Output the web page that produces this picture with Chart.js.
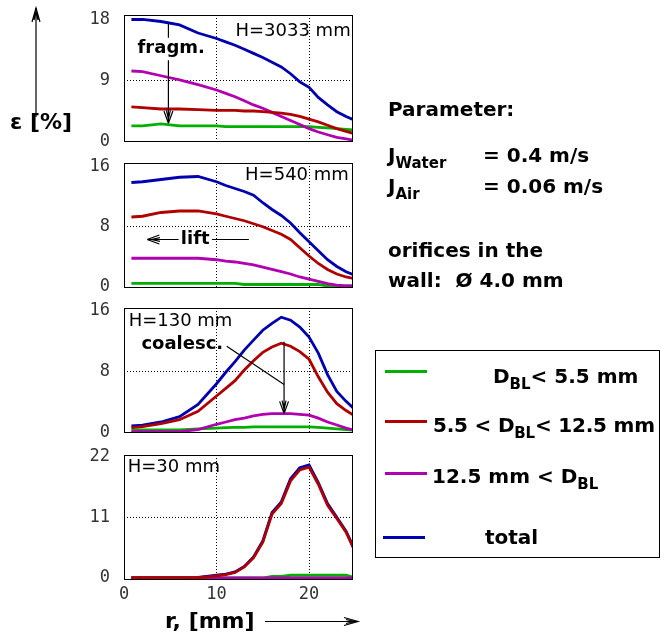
<!DOCTYPE html>
<html>
<head>
<meta charset="utf-8">
<script src="https://cdn.jsdelivr.net/npm/chart.js@4"></script>
<style>
  body { margin: 0; background: #fff; }
  #page { position: relative; width: 661px; height: 641px; overflow: hidden; font-family: "DejaVu Sans", sans-serif; }
  canvas { position: absolute; left: 0; }
  .t { position: absolute; font-weight: bold; font-size: 20px; line-height: 20px; color: #000; white-space: nowrap; }
  .t sub { font-size: 15px; line-height: 0; vertical-align: -6px; }
  #legend { position: absolute; left: 375px; top: 350px; width: 285px; height: 208px; border: 1px solid #000; box-sizing: border-box; }
  .ln { position: absolute; height: 3px; width: 42px; }
  svg { position: absolute; left: 0; top: 0; }
</style>
</head>
<body>
<div id="page">
  <canvas id="p1" width="360" height="143"></canvas>
  <canvas id="p2" width="360" height="141"></canvas>
  <canvas id="p3" width="360" height="141"></canvas>
  <canvas id="p4" width="360" height="165"></canvas>

  <svg width="661" height="641">
    <g stroke="#000" stroke-width="1.2" fill="none">
      <line x1="36" y1="117" x2="36" y2="8"/>
      <path d="M32 22 L36 8 L40 22 M34 20 L36 12 L38 20"/>
      <line x1="265" y1="621.5" x2="358" y2="621.5"/>
      <path d="M344 617.5 L358 621.5 L344 625.5 M346 619.5 L354 621.5 L346 623.5"/>
    </g>
  </svg>

  <div class="t" style="left:10px;top:112px;font-size:22px;">ε [%]</div>
  <div class="t" style="left:165px;top:611px;font-size:22px;">r, [mm]</div>

  <div class="t" style="left:388px;top:99px;">Parameter:</div>
  <div class="t" style="left:388px;top:145px;">J<sub>Water</sub></div>
  <div class="t" style="left:483px;top:145px;">= 0.4 m/s</div>
  <div class="t" style="left:388px;top:176px;">J<sub>Air</sub></div>
  <div class="t" style="left:483px;top:176px;">= 0.06 m/s</div>
  <div class="t" style="left:388px;top:240px;">orifices in the</div>
  <div class="t" style="left:388px;top:270px;">wall:&nbsp; Ø 4.0 mm</div>

  <div id="legend"></div>
  <div class="ln" style="left:385px;top:370px;background:#00b000;"></div>
  <div class="t" style="left:493px;top:366px;">D<sub>BL</sub>&lt; 5.5 mm</div>
  <div class="ln" style="left:385px;top:420px;background:#b00000;"></div>
  <div class="t" style="left:433px;top:415px;letter-spacing:-0.2px;">5.5 &lt; D<sub>BL</sub>&lt; 12.5 mm</div>
  <div class="ln" style="left:385px;top:472px;background:#b000b0;"></div>
  <div class="t" style="left:432px;top:466px;">12.5 mm &lt; D<sub>BL</sub></div>
  <div class="ln" style="left:383px;top:536px;background:#0000b0;"></div>
  <div class="t" style="left:485px;top:527px;">total</div>
</div>

<script>
// radius positions, mm
const r = [0.8, 2, 4, 6, 8, 10, 11, 12, 13, 14, 15, 16, 17, 18, 19, 20, 21, 22, 23, 24, 24.8];
const xTicks = [0, 10, 20];

// H = 3033 mm
const small3033 = [2.3, 2.3, 2.6, 2.3, 2.3, 2.3, 2.2, 2.2, 2.2, 2.2, 2.2, 2.2, 2.2, 2.2, 2.2, 2.2, 2.1, 2.0, 1.9, 1.8, 1.7];
const mid3033 = [5.1, 5.0, 4.8, 4.8, 4.7, 4.6, 4.6, 4.6, 4.5, 4.5, 4.4, 4.3, 4.2, 4.0, 3.7, 3.3, 2.9, 2.4, 1.9, 1.5, 1.2];
const large3033 = [10.4, 10.3, 9.7, 9.1, 8.4, 7.6, 7.1, 6.6, 6.0, 5.4, 4.9, 4.3, 3.7, 3.1, 2.5, 1.9, 1.4, 1.0, 0.6, 0.4, 0.2];
const total3033 = [18.0, 18.0, 17.7, 17.2, 16.0, 15.2, 14.7, 14.2, 13.6, 13.0, 12.4, 11.7, 11.0, 10.0, 8.8, 8.0, 6.5, 5.4, 4.4, 3.7, 3.2];

// H = 540 mm
const small540 = [0.45, 0.45, 0.45, 0.45, 0.45, 0.45, 0.45, 0.45, 0.3, 0.3, 0.3, 0.3, 0.3, 0.3, 0.3, 0.3, 0.3, 0.1, 0.1, 0.1, 0.1];
const mid540 = [9.3, 9.4, 9.9, 10.1, 10.1, 9.7, 9.4, 9.1, 8.8, 8.4, 8.0, 7.5, 7.0, 6.3, 5.2, 4.1, 3.1, 2.3, 1.7, 1.3, 1.1];
const large540 = [3.8, 3.8, 3.8, 3.8, 3.8, 3.6, 3.4, 3.3, 3.1, 2.9, 2.6, 2.3, 2.0, 1.7, 1.3, 1.0, 0.7, 0.4, 0.2, 0.1, 0.1];
const total540 = [13.9, 14.0, 14.3, 14.6, 14.7, 14.0, 13.5, 13.1, 12.7, 12.2, 11.2, 10.3, 9.5, 8.5, 7.2, 6.0, 4.8, 3.6, 2.7, 2.0, 1.6];

// H = 130 mm
const small130 = [0.35, 0.35, 0.35, 0.35, 0.5, 0.6, 0.65, 0.7, 0.7, 0.75, 0.75, 0.75, 0.75, 0.75, 0.75, 0.75, 0.7, 0.6, 0.5, 0.4, 0.35];
const mid130 = [0.65, 0.8, 1.2, 1.7, 2.8, 4.8, 5.8, 6.8, 8.2, 9.4, 10.5, 11.2, 11.7, 11.3, 10.6, 9.6, 7.3, 5.3, 3.8, 2.9, 2.3];
const large130 = [0.15, 0.15, 0.15, 0.15, 0.4, 1.1, 1.4, 1.7, 1.9, 2.2, 2.4, 2.5, 2.5, 2.5, 2.4, 2.3, 1.9, 1.4, 1.0, 0.6, 0.35];
const total130 = [0.9, 1.0, 1.4, 2.1, 3.7, 6.4, 7.9, 9.3, 10.8, 12.1, 13.4, 14.3, 15.1, 14.7, 13.8, 12.5, 10.4, 7.6, 5.4, 4.1, 3.2];

// H = 30 mm
const small30 = [0, 0, 0, 0, 0, 0, 0, 0, 0, 0, 0, 0.3, 0.3, 0.5, 0.5, 0.5, 0.5, 0.5, 0.5, 0.5, 0.1];
const mid30 = [0.05, 0.05, 0.05, 0.05, 0.05, 0.4, 0.6, 1.0, 2.0, 3.7, 6.5, 11.6, 13.5, 17.6, 19.6, 20.1, 17.0, 13.2, 10.8, 8.3, 5.4];
const large30 = [0, 0, 0, 0, 0, 0, 0, 0, 0, 0, 0, 0, 0, 0, 0, 0, 0, 0, 0, 0, 0];
const total30 = [0.05, 0.05, 0.05, 0.05, 0.1, 0.5, 0.7, 1.1, 2.1, 3.8, 6.7, 11.9, 13.8, 18.0, 20.0, 20.5, 17.3, 13.5, 11.0, 8.5, 5.6];

const colors = { small: "#00b000", mid: "#b00000", large: "#b000b0", total: "#0000b0" };
const tickFont = { family: "DejaVu Sans Mono", size: 17 };

// draws the frame, the panel labels and the little arrows
const notesPlugin = {
  id: "notes",
  afterDatasetsDraw(chart, args, opts) {
    const { ctx, chartArea: a, scales: { x, y } } = chart;
    ctx.save();
    ctx.strokeStyle = "#000";
    ctx.lineWidth = 1;
    ctx.strokeRect(Math.round(a.left) + 0.5, Math.round(a.top) + 0.5, Math.round(a.right - a.left) - 1, Math.round(a.bottom - a.top) - 1);

    (opts.lines || []).forEach(l => {
      const x1 = x.getPixelForValue(l.from[0]), y1 = y.getPixelForValue(l.from[1]);
      const x2 = x.getPixelForValue(l.to[0]), y2 = y.getPixelForValue(l.to[1]);
      ctx.lineWidth = 1.2;
      ctx.beginPath();
      ctx.moveTo(x1, y1);
      ctx.lineTo(x2, y2);
      if (l.head) {
        const ang = Math.atan2(y2 - y1, x2 - x1);
        [0.35, -0.35].forEach(d => {
          ctx.moveTo(x2, y2);
          ctx.lineTo(x2 - 13 * Math.cos(ang + d), y2 - 13 * Math.sin(ang + d));
        });
        [0.15, -0.15].forEach(d => {
          ctx.moveTo(x2 - 4 * Math.cos(ang), y2 - 4 * Math.sin(ang));
          ctx.lineTo(x2 - 13 * Math.cos(ang + d), y2 - 13 * Math.sin(ang + d));
        });
      }
      ctx.stroke();
    });

    ctx.fillStyle = "#000";
    ctx.textBaseline = "middle";
    (opts.labels || []).forEach(t => {
      ctx.font = t.font;
      ctx.textAlign = t.align;
      ctx.fillText(t.text, x.getPixelForValue(t.r), y.getPixelForValue(t.v));
    });
    ctx.restore();
  }
};

function makePanel(id, series, yTicks, yMin, yMax, notes, showX) {
  new Chart(document.getElementById(id), {
    type: "line",
    data: {
      datasets: [
        { label: "mid", data: r.map((v, i) => ({ x: v, y: series.mid[i] })), borderColor: colors.mid },
        { label: "large", data: r.map((v, i) => ({ x: v, y: series.large[i] })), borderColor: colors.large },
        { label: "small", data: r.map((v, i) => ({ x: v, y: series.small[i] })), borderColor: colors.small },
        { label: "total", data: r.map((v, i) => ({ x: v, y: series.total[i] })), borderColor: colors.total }
      ]
    },
    options: {
      responsive: false,
      animation: false,
      events: [],
      layout: { padding: { left: 0, right: 7, top: 10, bottom: showX ? 4 : 6 } },
      elements: { line: { borderWidth: 2.8, tension: 0, fill: false }, point: { radius: 0 } },
      plugins: { legend: { display: false }, tooltip: { enabled: false }, notes: notes },
      scales: {
        x: {
          type: "linear",
          min: 0,
          max: 24.75,
          afterFit: s => {
            s.height = showX ? 26 : 0;
            s.paddingLeft = 0; s.paddingRight = 0;
          },
          afterBuildTicks: s => { s.ticks = xTicks.map(v => ({ value: v })); },
          ticks: { display: showX, autoSkip: false, maxRotation: 0, padding: 4, font: tickFont, color: "#333" },
          grid: { drawTicks: false, lineWidth: 1, color: c => (c.tick && (c.tick.value === 10 || c.tick.value === 20)) ? "#000" : "rgba(0,0,0,0)" },
          border: { display: false, dash: [1, 2] }
        },
        y: {
          min: yMin,
          max: yMax,
          afterFit: s => {
            s.width = 124;
            s.paddingTop = 0; s.paddingBottom = 0;
          },
          afterBuildTicks: s => { s.ticks = yTicks.map(v => ({ value: v })); },
          ticks: { autoSkip: false, padding: 14, font: tickFont, color: "#333" },
          grid: { drawTicks: false, lineWidth: 1, color: c => (c.tick && c.tick.value === yTicks[1]) ? "#000" : "rgba(0,0,0,0)" },
          border: { display: false, dash: [1, 2] }
        }
      }
    },
    plugins: [notesPlugin]
  });
}

const hFont = '18px "DejaVu Sans"';
const bFont = 'bold 18px "DejaVu Sans"';

document.getElementById("p1").style.top = "5px";
document.getElementById("p2").style.top = "153px";
document.getElementById("p3").style.top = "298px";
document.getElementById("p4").style.top = "445px";

makePanel("p1", { small: small3033, mid: mid3033, large: large3033, total: total3033 }, [0, 9, 18], -0.07, 18.66, {
  labels: [
    { text: "H=3033 mm", r: 24.5, v: 16.3, align: "right", font: hFont },
    { text: "fragm.", r: 5.1, v: 13.8, align: "center", font: bFont }
  ],
  lines: [
    { from: [4.8, 17.4], to: [4.8, 15.3] },
    { from: [4.8, 12.0], to: [4.8, 2.7], head: true }
  ]
}, false);

makePanel("p2", { small: small540, mid: mid540, large: large540, total: total540 }, [0, 8, 16], -0.17, 16.5, {
  labels: [
    { text: "H=540 mm", r: 24.3, v: 14.8, align: "right", font: hFont },
    { text: "lift", r: 7.7, v: 6.3, align: "center", font: bFont }
  ],
  lines: [
    { from: [5.9, 6.3], to: [2.5, 6.3], head: true },
    { from: [9.5, 6.3], to: [13.5, 6.3] }
  ]
}, false);

makePanel("p3", { small: small130, mid: mid130, large: large130, total: total130 }, [0, 8, 16], -0.04, 16.3, {
  labels: [
    { text: "H=130 mm", r: 0.5, v: 14.6, align: "left", font: hFont },
    { text: "coalesc.", r: 6.3, v: 11.5, align: "center", font: bFont }
  ],
  lines: [
    { from: [11.1, 11.3], to: [17.3, 6.3] },
    { from: [17.3, 11.9], to: [17.3, 2.5], head: true }
  ]
}, false);

makePanel("p4", { small: small30, mid: mid30, large: large30, total: total30 }, [0, 11, 22], -0.36, 22.3, {
  labels: [
    { text: "H=30 mm", r: 0.4, v: 20.0, align: "left", font: hFont }
  ]
}, true);
</script>
</body>
</html>
